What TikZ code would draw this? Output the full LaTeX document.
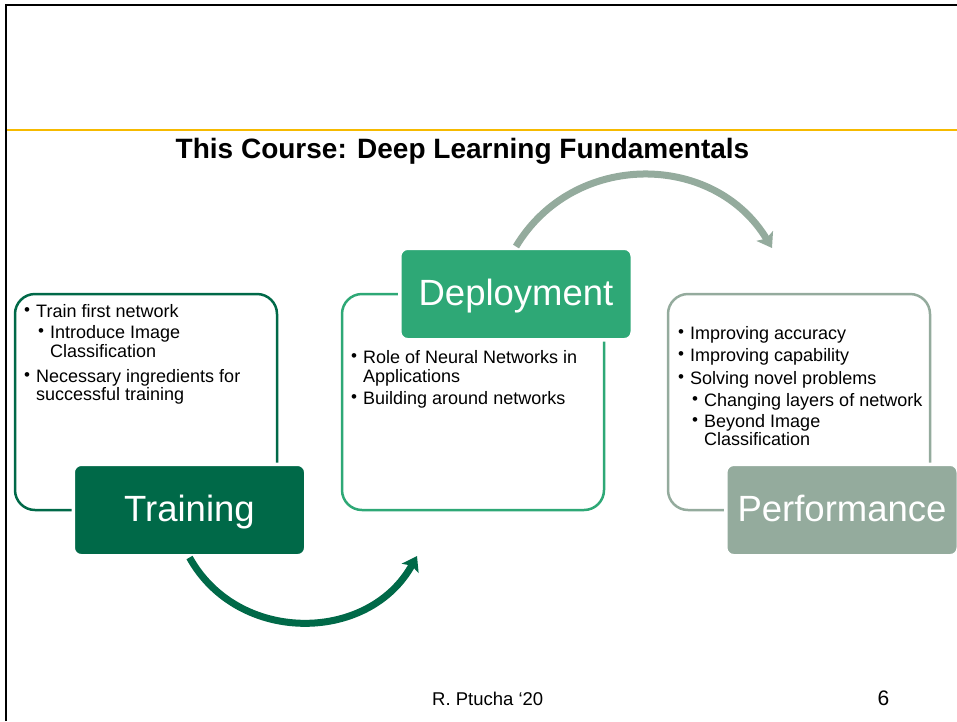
\documentclass[tikz,border=0pt]{standalone}
\usepackage{fontspec}
\setmainfont{Liberation Sans}
\usetikzlibrary{arrows.meta}

\definecolor{traingreen}{RGB}{0,105,72}
\definecolor{deploygreen}{RGB}{46,168,118}
\definecolor{perfgray}{RGB}{148,171,157}
\definecolor{rulegold}{RGB}{246,186,0}

\newcommand{\bul}{\makebox[12pt][l]{\raisebox{2pt}{\fontsize{17}{17}\selectfont\textbullet}}}

\begin{document}
\begin{tikzpicture}[x=1pt,y=1pt,
  item/.style={anchor=base west,inner sep=0pt,font=\fontsize{18}{21}\selectfont},
  outline/.style={draw=#1,line width=2.5pt,rounded corners=20pt,minimum width=262pt,minimum height=216pt},
  phase/.style={fill=#1,draw=white,line width=3.5pt,rounded corners=8pt,minimum width=232.5pt,minimum height=91.5pt,
    text=white,text height=26pt,text depth=3pt,font=\fontsize{36.5}{40}\selectfont},
  flow/.style={draw=#1,line width=7pt,-{Stealth[length=14pt,width=19pt,inset=3pt]}}]
 \useasboundingbox (0,0) rectangle (957,-721);
 \draw[line width=2.8pt] (6,-721) -- (6,-5) -- (957,-5);
 \draw[rulegold,line width=2.8pt] (7,-130) -- (957,-130);
 \node[anchor=base,inner sep=0pt,font=\bfseries\fontsize{28}{30}\selectfont] (title) at (462.5,-158) {This Course: Deep Learning Fundamentals};

 \node[outline=traingreen] (trainbox) at (146,-402) {};
 \node[outline=deploygreen] (deploybox) at (473,-402) {};
 \node[outline=perfgray] (perfbox) at (799,-402) {};

 \node[phase=traingreen] (train) at (189.5,-510) {Training};
 \node[phase=deploygreen] (deploy) at (516,-294) {Deployment};
 \node[phase=perfgray] (perf) at (842,-510) {Performance};

 \node[item] (tr1) at (24,-317.5) {\bul Train first network};
 \node[item] (tr2) at (38,-338.5) {\bul Introduce Image};
 \node[item] (tr3) at (50,-357.5) {Classification};
 \node[item] (tr4) at (24,-382) {\bul Necessary ingredients for};
 \node[item] (tr5) at (36,-400.5) {successful training};

 \node[item] (dp1) at (351,-363.5) {\bul Role of Neural Networks in};
 \node[item] (dp2) at (363,-382) {Applications};
 \node[item] (dp3) at (351,-404) {\bul Building around networks};

 \node[item] (pf1) at (678,-339.5) {\bul Improving accuracy};
 \node[item] (pf2) at (678,-361.5) {\bul Improving capability};
 \node[item] (pf3) at (678,-384.5) {\bul Solving novel problems};
 \node[item] (pf4) at (692,-406.5) {\bul Changing layers of network};
 \node[item] (pf5) at (692,-427.5) {\bul Beyond Image};
 \node[item] (pf6) at (704,-445.5) {Classification};

 \coordinate (tip1) at (417,-556);
 \coordinate (tip2) at (772,-248);
 \draw[flow=traingreen] (train.south) to[out=-61,in=-119,looseness=1.12] (tip1);
 \draw[flow=perfgray] (deploy.north) to[out=59,in=121,looseness=1.12] (tip2);

 \node[anchor=base west,inner sep=0pt,font=\fontsize{18.5}{20}\selectfont] (author) at (432,-705) {R. Ptucha ‘20};
 \node[anchor=base,inner sep=0pt,font=\fontsize{21}{22}\selectfont] (page) at (883.5,-705) {6};
\end{tikzpicture}
\end{document}
